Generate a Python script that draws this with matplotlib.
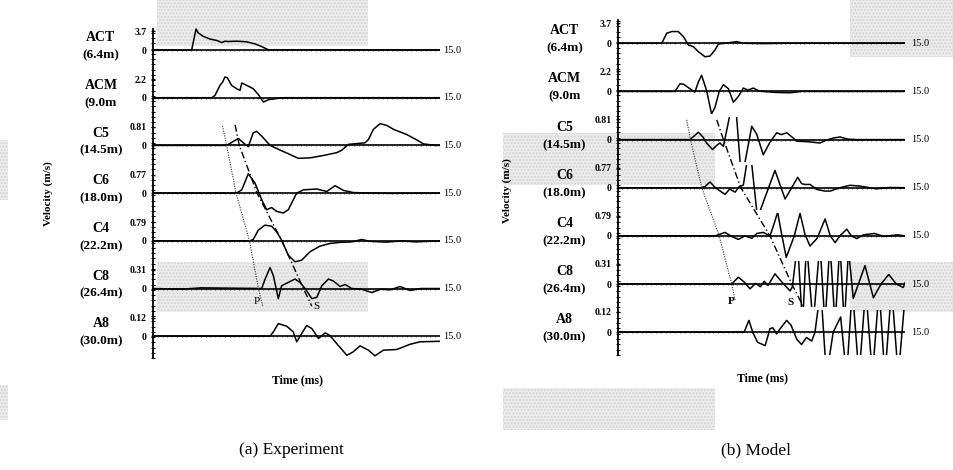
import numpy as np
import matplotlib
matplotlib.use("Agg")
import matplotlib.pyplot as plt
from matplotlib.patches import Rectangle

plt.rcParams['font.family'] = ['Liberation Serif', 'DejaVu Serif']

# ---- data (time in ms, velocity in m/s) ----
stations = ['ACT', 'ACM', 'C5', 'C6', 'C4', 'C8', 'A8']
distances = ['(6.4m)', '(9.0m', '(14.5m)', '(18.0m)', '(22.2m)', '(26.4m)', '(30.0m)']
peak_labels = ['3.7', '2.2', '0.81', '0.77', '0.79', '0.31', '0.12']
peak_values = [3.7, 2.2, 0.81, 0.77, 0.79, 0.31, 0.12]
t_end = 15.0

# (a) experiment
exp_act_t = [0, 2.02, 2.25, 2.37, 2.63, 2.98, 3.33, 3.59, 3.76, 3.94, 4.37, 4.90, 5.33, 5.68, 6.03, 15.0]
exp_act_v = [0, 0, 3.7, 3.0, 2.4, 1.93, 1.69, 1.32, 1.55, 1.5, 1.56, 1.44, 1.08, 0.6, 0.05, 0]
exp_acm_t = [0, 3.07, 3.24, 3.50, 3.64, 3.76, 3.88, 4.11, 4.37, 4.55, 4.64, 4.90, 5.24, 5.50, 5.77, 6.03, 6.29, 6.55, 6.90, 15.0]
exp_acm_v = [0, 0, 0.24, 1.29, 1.64, 2.17, 2.1, 1.29, 0.94, 0.77, 1.54, 1.29, 0.94, 0.35, -0.45, -0.21, -0.14, -0.05, 0, 0]
exp_c5_t = [0, 3.85, 4.46, 4.72, 4.98, 5.24, 5.42, 5.68, 6.12, 6.64, 7.16, 7.60, 8.21, 8.90, 9.60, 9.86, 10.21,
            11.08, 11.26, 11.52, 11.87, 12.22, 12.57, 13.26, 13.79, 14.13, 14.74, 15.0]
exp_c5_v = [0, 0, 0.27, 0.10, -0.05, 0.49, 0.54, 0.36, 0, -0.18, -0.35, -0.50, -0.48, -0.39, -0.28, -0.19, 0.04,
            0.10, 0.23, 0.62, 0.84, 0.77, 0.62, 0.42, 0.21, 0.06, 0, 0]
exp_c6_t = [0, 4.37, 4.64, 4.98, 5.33, 5.68, 5.94, 6.20, 6.46, 6.81, 7.07, 7.51, 7.86, 8.56, 9.08, 9.52, 9.95,
            10.47, 11.52, 12.4, 15.0]
exp_c6_v = [0, 0, 0.12, 0.71, 0.37, -0.24, -0.61, -0.53, -0.67, -0.73, -0.61, 0, 0.12, 0.15, 0.06, 0.27, 0.10,
            0.02, 0, -0.01, 0]
exp_c4_t = [0, 5.07, 5.24, 5.50, 5.85, 6.20, 6.46, 6.72, 7.07, 7.42, 7.77, 8.21, 8.73, 9.25, 9.77, 10.39, 10.91,
            11.34, 12.22, 13.0, 13.7, 15.0]
exp_c4_v = [0, 0, 0.05, 0.40, 0.59, 0.55, 0.34, 0.03, -0.54, -0.79, -0.73, -0.41, -0.20, -0.10, -0.06, -0.04, 0.05,
            -0.02, -0.05, 0, -0.04, 0]
exp_c8_t = [0, 1.5, 2.5, 5.68, 5.86, 6.12, 6.29, 6.55, 6.72, 7.07, 7.42, 7.68, 7.95, 8.30, 8.56, 8.82, 9.17, 9.43,
            9.78, 10.04, 10.39, 10.9, 11.43, 11.9, 12.4, 12.91, 13.44, 14.0, 15.0]
exp_c8_v = [0, -0.01, 0.01, 0, 0.14, 0.31, 0.19, -0.15, 0.04, 0.09, 0.14, 0.09, 0, -0.15, -0.13, 0.04, 0.14, 0.11,
            0.03, 0.06, 0, -0.01, -0.06, -0.01, -0.02, 0.03, -0.03, 0, 0]
exp_a8_t = [0, 6.12, 6.29, 6.55, 6.99, 7.33, 7.51, 7.77, 8.03, 8.30, 8.65, 9.0, 9.25, 9.60, 10.13, 10.47, 10.82,
            11.26, 11.60, 12.04, 12.74, 13.44, 13.96, 15.0]
exp_a8_v = [0, 0, 0.025, 0.072, 0.057, 0.025, -0.032, 0.015, 0.061, 0.044, -0.013, 0.019, 0.004, -0.042, -0.109,
            -0.089, -0.055, -0.08, -0.112, -0.08, -0.076, -0.046, -0.032, -0.029]

# (b) model
mod_act_t = [0, 2.30, 2.56, 2.82, 3.16, 3.43, 3.69, 3.95, 4.21, 4.56, 4.82, 5.08, 5.26, 5.7, 6.21, 6.6, 7.5, 9.0, 15.0]
mod_act_v = [0, 0, 1.76, 2.05, 2.05, 1.17, -0.29, -0.59, -1.47, -2.35, -2.23, -1.17, -0.12, 0.05, 0.29, 0.0, -0.05, 0, 0]
mod_acm_t = [0, 2.99, 3.25, 3.45, 3.77, 4.03, 4.21, 4.38, 4.64, 4.90, 5.08, 5.30, 5.52, 5.78, 6.04, 6.30, 6.56, 6.8,
             7.08, 7.4, 8.2, 8.99, 9.6, 15.0]
mod_acm_v = [0, 0, 0.80, 0.74, 0.28, -0.07, 0.98, 1.68, 0.1, -2.34, -1.64, 0, 0.7, 0.28, -1.12, -0.52, 0.35, 0.14,
             0.35, 0.03, -0.1, -0.14, 0, 0]
mod_c5_t = [0, 3.78, 4.21, 4.45, 4.64, 4.95, 5.2, 5.34, 5.52, 5.83, 6.02, 6.21, 6.39, 6.52, 6.65, 7.0, 7.26, 7.6,
            7.95, 8.3, 8.55, 8.83, 9.1, 9.35, 9.9, 10.56, 10.9, 11.26, 11.61, 12.0, 12.48, 15.0]
mod_c5_v = [0, 0, 0.28, 0.10, -0.13, -0.38, -0.2, -0.13, -0.26, 0.85, 1.8, 0.85, -0.85, -1.3, -0.85, 0.51, 0.2, -0.58,
            -0.1, 0.26, 0.19, 0.26, 0.1, -0.06, -0.08, -0.13, -0.02, 0.06, 0.1, 0.02, 0, 0]
mod_c6_t = [0, 4.3, 4.55, 4.82, 5.1, 5.6, 5.85, 6.13, 6.35, 6.56, 6.73, 6.88, 7.0, 7.26, 7.35, 7.43, 8.21, 8.74,
            9.4, 9.6, 9.78, 10.04, 10.39, 10.8, 11.1, 11.6, 12.13, 12.65, 13.5, 14.2, 15.0]
mod_c6_v = [0, 0, 0.04, 0.21, 0, -0.24, -0.05, -0.16, 0.04, 0.1, 0.85, 1.3, 0.85, -0.85, -1.0, -0.85, 0.63, -0.41,
            0.38, 0.15, 0.12, 0.12, -0.06, -0.12, -0.12, 0, 0.09, 0.06, -0.04, 0.01, 0]
mod_c4_t = [0, 5.1, 5.6, 5.95, 6.3, 6.65, 7.0, 7.26, 7.6, 7.95, 8.12, 8.35, 8.55, 8.8, 9.22, 9.52, 9.78, 10.04,
            10.4, 10.83, 11.1, 11.35, 11.6, 11.96, 12.2, 12.48, 12.83, 13.4, 13.9, 14.6, 15.0]
mod_c4_v = [0, 0, 0.13, -0.02, -0.13, 0, -0.09, 0.09, 0.13, 0, 0.35, 0.88, 0.1, -0.8, 0, 0.84, 0.05, -0.38,
            -0.1, 0.63, 0, -0.25, 0, 0.25, 0, -0.1, 0.04, 0.09, -0.02, 0.04, 0]
mod_c8_t = [0, 5.95, 6.3, 6.6, 6.91, 7.2, 7.45, 7.65, 7.85, 8.21, 8.6, 9.0, 9.12, 9.39, 9.65, 9.86, 10.2, 10.56,
            10.82, 11.08, 11.35, 11.6, 11.83, 12.05, 12.3, 12.91, 13.35, 13.75, 14.15, 14.55, 14.91, 15.0]
mod_c8_v = [0, 0, 0.1, 0.03, -0.07, 0.01, -0.04, 0.04, -0.02, 0.15, 0.02, -0.1, -0.04, 0.6, -0.6, 0.6, -0.6, 0.6,
            -0.6, 0.6, -0.6, 0.6, -0.6, 0.5, -0.21, 0.27, -0.2, 0.0, 0.14, 0.0, -0.05, 0.02]
mod_a8_t = [0, 6.6, 6.85, 7.05, 7.3, 7.7, 7.95, 8.1, 8.3, 8.45, 8.82, 9.05, 9.35, 9.6, 9.85, 10.13, 10.3, 10.6,
            10.9, 11.25, 11.64, 11.95, 12.25, 12.6, 12.95, 13.3, 13.65, 13.95, 14.3, 14.65, 15.0]
mod_a8_v = [0, 0, 0.067, 0.0, -0.057, -0.076, 0.02, 0.025, -0.01, 0.015, 0.067, 0.04, -0.04, -0.07, -0.03, -0.05,
            0.0, 0.25, -0.25, 0.0, 0.086, -0.25, 0.25, -0.25, 0.25, -0.25, 0.25, -0.25, 0.25, -0.25, 0.2]

# arrival lines (time in ms, position counted in traces from ACT)
exp_p_t = [3.63, 3.85, 4.34, 5.04, 5.51, 5.74]
exp_p_pos = [1.59, 2, 3, 4, 5, 5.38]
exp_s_t = [4.29, 4.51, 5.44, 6.73, 7.86, 8.30]
exp_s_pos = [1.57, 2, 3, 4, 5, 5.37]
mod_p_t = [3.6, 3.8, 4.39, 5.3, 5.95, 6.13]
mod_p_pos = [1.59, 2, 3, 4, 5, 5.33]
mod_s_t = [5.17, 5.52, 6.43, 7.95, 9.09, 9.69]
mod_s_pos = [1.59, 2, 3, 4, 5, 5.47]

exp_traces = [(exp_act_t, exp_act_v), (exp_acm_t, exp_acm_v), (exp_c5_t, exp_c5_v), (exp_c6_t, exp_c6_v),
              (exp_c4_t, exp_c4_v), (exp_c8_t, exp_c8_v), (exp_a8_t, exp_a8_v)]
mod_traces = [(mod_act_t, mod_act_v), (mod_acm_t, mod_acm_v), (mod_c5_t, mod_c5_v), (mod_c6_t, mod_c6_v),
              (mod_c4_t, mod_c4_v), (mod_c8_t, mod_c8_v), (mod_a8_t, mod_a8_v)]

AMP = 0.44    # label value -> trace units
BAND = 0.47   # traces are cut outside this half-height
W, H = 954, 470

fig = plt.figure(figsize=(W / 100, H / 100), dpi=100)

# grey halftone smudges of the scan (pixel boxes x0, y0, x1, y1)
smudges = [(157, 0, 368, 46), (157, 262, 368, 312), (850, 0, 954, 57), (503, 133, 715, 185),
           (850, 262, 954, 312), (503, 388, 715, 430), (0, 140, 8, 200), (0, 385, 8, 420)]
for x0, y0, x1, y1 in smudges:
    fig.add_artist(Rectangle((x0 / W, 1 - y1 / H), (x1 - x0) / W, (y1 - y0) / H,
                             transform=fig.transFigure, facecolor='#ececec', edgecolor='#d4d4d4',
                             hatch='.....', lw=0, zorder=-5))
plt.rcParams['hatch.color'] = '#d0d0d0'


def panel(rect, traces, p_t, p_pos, s_t, s_pos, lab_off, spine_top, spine_bot, name_x, vel_xy, time_xy,
          p_xy, s_xy, ps_weight, end_gap):
    ax = fig.add_axes(rect)
    ax.patch.set_visible(False)
    ax.set_xlim(0, t_end)
    ax.set_ylim(-6.918, 0.629)
    for sp in ['top', 'right', 'bottom']:
        ax.spines[sp].set_visible(False)
    ax.spines['left'].set_bounds(-spine_bot, spine_top)
    ax.spines['left'].set_linewidth(1.3)
    ax.set_xticks([])
    ticks, labels = [], []
    for k in range(len(stations)):
        ticks += [-k + lab_off, -k]
        labels += [peak_labels[k], '0']
    ax.set_yticks(ticks)
    ax.set_yticklabels(labels, fontsize=7, fontweight='bold')
    ax.tick_params(axis='y', length=3, width=1.0, pad=3, direction='inout')
    ax.set_yticks(np.arange(-spine_bot, spine_top, 0.11), minor=True)
    ax.tick_params(axis='y', which='minor', length=2.5, width=0.7, direction='inout')

    dots = np.arange(0.25, t_end, 0.25)
    for k, (t, v) in enumerate(traces):
        ax.plot([0, t_end], [-k, -k], color='black', lw=1.2)
        ax.plot(dots, np.full(dots.shape, -k), '|', color='#222222', ms=1.6, mew=0.5)
        y = -k + np.array(v) / peak_values[k] * AMP
        line, = ax.plot(t, y, color='black', lw=1.1)
        clip = Rectangle((0, -k - BAND), t_end, 2 * BAND, transform=ax.transData)
        line.set_clip_path(clip)
        ax.text(t_end + end_gap, -k, '15.0', fontsize=7.5, va='center', ha='left', clip_on=False)
        ax.text(name_x, -k + 0.26, stations[k], fontsize=10, fontweight='bold', ha='center', va='center')
        ax.text(name_x, -k - 0.11, distances[k], fontsize=9.5, fontweight='bold', ha='center', va='center')

    ax.plot(p_t, -np.array(p_pos), color='#333333', lw=0.8, ls=(0, (1, 1.2)))
    ax.plot(s_t, -np.array(s_pos), color='black', lw=1.0, ls=(0, (5, 2, 1, 2)))
    ax.text(p_xy[0], -p_xy[1], 'P', fontsize=8, fontweight=ps_weight, ha='center', va='center')
    ax.text(s_xy[0], -s_xy[1], 'S', fontsize=8, fontweight=ps_weight, ha='center', va='center')
    ax.text(vel_xy[0], -vel_xy[1], 'Velocity (m/s)', rotation=90, fontsize=8, fontweight='bold',
            ha='center', va='center')
    ax.text(time_xy[0], -time_xy[1], 'Time (ms)', fontsize=8.5, fontweight='bold', ha='center', va='center')
    return ax


# panel (a): t=0 at x=153 px, t=15 at x=440 px; traces from y=20 to y=380 px
panel([153 / W, 1 - 380 / H, 287 / W, 360 / H], exp_traces, exp_p_t, exp_p_pos, exp_s_t, exp_s_pos,
      0.39, 0.44, 6.46, -2.72, (-5.49, 3.0), (7.53, 6.92), (5.42, 5.28), (8.56, 5.37), 'normal', 0.15)
# panel (b)
panel([617.7 / W, 1 - 376.4 / H, 287.3 / W, 363.4 / H], mod_traces, mod_p_t, mod_p_pos, mod_s_t, mod_s_pos,
      0.42, 0.48, 6.47, -2.78, (-5.78, 3.05), (7.56, 6.95), (5.95, 5.37), (9.0, 5.39), 'bold', 0.3)

fig.text(291 / W, 1 - 450 / H, '(a) Experiment', fontsize=12.5, ha='center', va='center')
fig.text(756 / W, 1 - 450 / H, '(b) Model', fontsize=12.5, ha='center', va='center')

fig.savefig('out.png', dpi=100)
